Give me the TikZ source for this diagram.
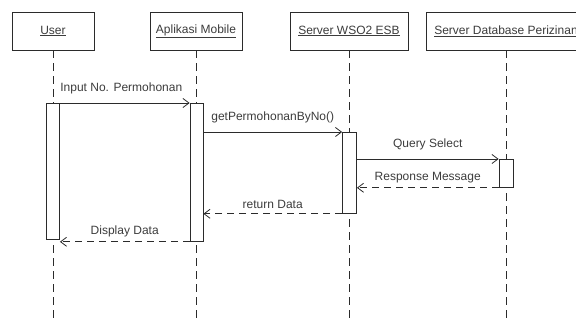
\documentclass[tikz,border=0pt]{standalone}
\usepackage{fontspec}
\setmainfont{Liberation Sans}
\usepackage{xcolor}
\usetikzlibrary{arrows.meta,positioning,calc}
\definecolor{ink}{HTML}{2B2B2B}
\definecolor{inkgray}{HTML}{3C3C3C}
\tikzset{
  headbox/.style={draw=ink,fill=white,line width=0.8pt,minimum height=38pt,
                  inner sep=2pt,font=\fontsize{12}{14}\selectfont,text=inkgray},
  actbar/.style={draw=ink,fill=white,line width=0.8pt,minimum width=13pt,
                 inner sep=0pt,anchor=north},
  lifeline/.style={draw=ink,line width=0.8pt,dash pattern=on 8pt off 5pt},
  callarr/.style={-{Straight Barb[length=6pt,width=9pt]},line width=0.8pt,
                  draw=ink},
  retarr/.style={-{Straight Barb[length=6pt,width=9pt]},line width=0.8pt,
                 draw=ink,dash pattern=on 7pt off 5pt},
  msglabel/.style={font=\fontsize{12}{14}\selectfont,text=inkgray,midway}
}
\begin{document}
\begin{tikzpicture}[x=1pt,y=-1pt]
    \path[use as bounding box] (0,0) rectangle (576,320);
    \begin{scope}
    \clip (0,0) rectangle (576,320);

    % headers
    \node[headbox,minimum width=82pt] (user) at (53,31) {\underline{User}};
    \node[headbox,minimum width=92pt] (app) at (196,31) {\underline{Aplikasi Mobile}};
    \node[headbox,minimum width=118pt] (esb) at (349,31) {\underline{Server WSO2 ESB}};
    \node[headbox,minimum width=160pt] (db) at (506,31) {\underline{Server Database Perizinan}};
    \coordinate (bot) at (0,322);

    % lifelines
    \foreach \ll in {user,app,esb,db}
      \draw[lifeline] (\ll.south) -- (\ll.south |- bot);

    % activations
    \node[actbar,minimum height=136pt] (userbar) at (53,103) {};
    \node[actbar,minimum height=138pt] (appbar) at (196.5,103) {};
    \node[actbar,minimum height=81pt,minimum width=14pt] (esbbar) at (349.5,132) {};
    \node[actbar,minimum height=28pt,minimum width=14pt] (dbbar) at (506,159) {};

    % messages
    \draw[callarr] (userbar.north) -- (appbar.north west)
      node[msglabel,above=5pt] {Input No. Permohonan};
    \draw[callarr] (esbbar.north west -| appbar.east) -- (esbbar.north west)
      node[msglabel,above=5pt] {getPermohonanByNo()};
    \draw[callarr] (dbbar.north west -| esbbar.east) -- (dbbar.north west)
      node[msglabel,above=5pt] {Query Select};
    \draw[retarr] (dbbar.south west) -- (dbbar.south west -| esbbar.east)
      node[msglabel,above=1pt] {Response Message};
    \draw[retarr] (esbbar.south west) -- (esbbar.south west -| appbar.east)
      node[msglabel,above=1pt] {return Data};
    \draw[retarr] (appbar.south west) -- (appbar.south west -| userbar.east)
      node[msglabel,above=1pt] {Display Data};
    \end{scope}
  \end{tikzpicture}
\end{document}
